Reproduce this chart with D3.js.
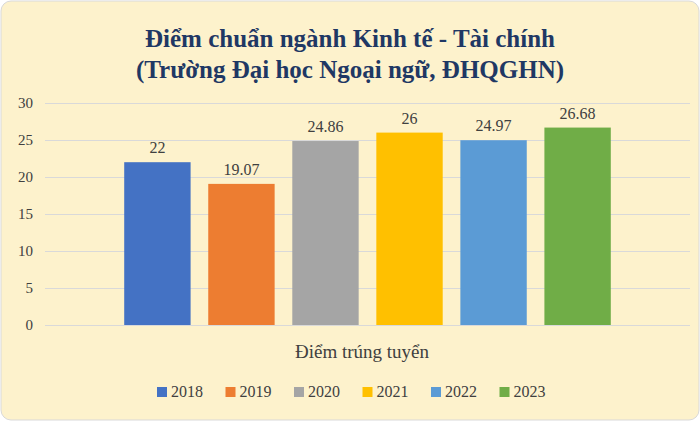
<!DOCTYPE html>
<html><head><meta charset="utf-8">
<script src="https://cdn.jsdelivr.net/npm/d3@7"></script>
<style>body{margin:0;background:#fff}svg{display:block}</style>
</head><body><svg id="c" width="700" height="421"></svg>
<script>
var categories = ['Điểm trúng tuyển']
var years = ['2018', '2019', '2020', '2021', '2022', '2023']
var scores = [22, 19.07, 24.86, 26, 24.97, 26.68]
var labels = ['22', '19.07', '24.86', '26', '24.97', '26.68']
var colors = ['#4472c4', '#ed7d31', '#a5a5a5', '#ffc000', '#5b9bd5', '#70ad47']
var yTicks = [0, 5, 10, 15, 20, 25, 30]

var svg = d3.select('#c')
var font = '"Liberation Serif", "DejaVu Serif", serif'
svg.append('rect').attr('x', 1).attr('y', 1).attr('width', 698).attr('height', 419)
  .attr('rx', 10).attr('fill', '#fdf2cc').attr('stroke', '#d9d9d9')

svg.append('text').attr('x', 350).attr('y', 47).attr('text-anchor', 'middle')
  .attr('font-family', font).attr('font-weight', 'bold').attr('font-size', 25).attr('fill', '#1f3864')
  .text('Điểm chuẩn ngành Kinh tế - Tài chính')
svg.append('text').attr('x', 350).attr('y', 78).attr('text-anchor', 'middle')
  .attr('font-family', font).attr('font-weight', 'bold').attr('font-size', 25).attr('fill', '#1f3864')
  .text('(Trường Đại học Ngoại ngữ, ĐHQGHN)')

var y = d3.scaleLinear().domain([0, 30]).range([325, 103])
var x0 = d3.scaleBand().domain(categories).range([45, 690]).paddingOuter(0.125)
var x1 = d3.scaleBand().domain(years).range([0, x0.bandwidth()]).paddingInner(0.21).paddingOuter(0.175)

var yAxis = svg.append('g').attr('transform', 'translate(45,0)')
  .call(d3.axisLeft(y).tickValues(yTicks).tickSize(-645).tickPadding(12))
yAxis.select('.domain').remove()
yAxis.selectAll('line').attr('stroke', '#d9d9d9')
yAxis.selectAll('text').attr('font-family', font).attr('font-size', 15).attr('fill', '#404040')

var g = svg.append('g').attr('transform', 'translate(' + x0(categories[0]) + ',0)')
g.selectAll('rect').data(scores).enter().append('rect')
  .attr('x', function (d, i) { return x1(years[i]) })
  .attr('width', x1.bandwidth())
  .attr('y', function (d) { return y(d) })
  .attr('height', function (d) { return y(0) - y(d) })
  .attr('fill', function (d, i) { return colors[i] })
g.selectAll('text.v').data(scores).enter().append('text').attr('class', 'v')
  .attr('x', function (d, i) { return x1(years[i]) + x1.bandwidth() / 2 })
  .attr('y', function (d) { return y(d) - 9 })
  .attr('text-anchor', 'middle').attr('font-family', font).attr('font-size', 16).attr('fill', '#404040')
  .text(function (d, i) { return labels[i] })

svg.append('text').attr('x', 362).attr('y', 358)
  .attr('text-anchor', 'middle').attr('font-family', font).attr('font-size', 19).attr('fill', '#404040')
  .text(categories[0])

var lg = svg.append('g').selectAll('g').data(years).enter().append('g')
  .attr('transform', function (d, i) { return 'translate(' + (157 + i * 68.5) + ',392)' })
lg.append('rect').attr('x', 0).attr('y', -5).attr('width', 10).attr('height', 10)
  .attr('fill', function (d, i) { return colors[i] })
lg.append('text').attr('x', 14).attr('y', 5).attr('font-family', font).attr('font-size', 16)
  .attr('fill', '#404040').text(function (d) { return d })
</script></body></html>
